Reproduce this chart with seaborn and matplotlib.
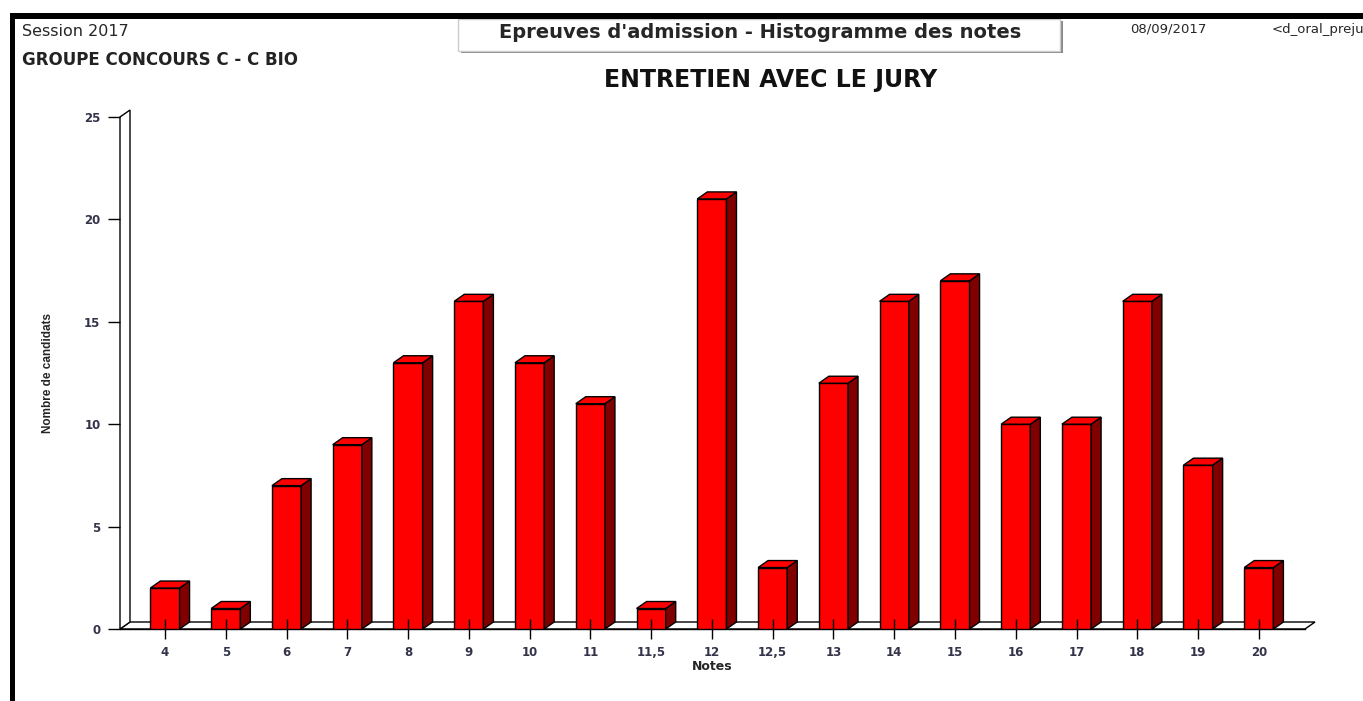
import matplotlib
matplotlib.use("Agg")
import matplotlib.pyplot as plt
from matplotlib.patches import Polygon, Rectangle
import seaborn as sns
import pandas as pd

notes = ["4", "5", "6", "7", "8", "9", "10", "11", "11,5", "12",
         "12,5", "13", "14", "15", "16", "17", "18", "19", "20"]
candidats = [2, 1, 7, 9, 13, 16, 13, 11, 1, 21,
             3, 12, 16, 17, 10, 10, 16, 8, 3]
yticks = [0, 5, 10, 15, 20, 25]

df = pd.DataFrame({"Notes": notes, "n": candidats})

sns.set_style("white")
plt.rcParams["font.family"] = ["DejaVu Sans"]

fig = plt.figure(figsize=(13.63, 7.01), dpi=100)
ax = fig.add_axes([120 / 1363, 72 / 701, 1185 / 1363, 512 / 701])

sns.barplot(data=df, x="Notes", y="n", order=notes, color="#ff0000",
            saturation=1, width=0.48, edgecolor="black", linewidth=1,
            ax=ax, zorder=3)

x0, x1 = -0.74, 18.76
dx, dy = 10 / 60.78, 7 / 20.48
ax.set_xlim(x0, x1)
ax.set_ylim(0, 25)

# floor and wall
ax.add_patch(Polygon([(x0, 0), (x1, 0), (x1 + dx, dy), (x0 + dx, dy)],
                     closed=True, fc="white", ec="black", lw=1,
                     zorder=0.5, clip_on=False))
ax.add_patch(Polygon([(x0, 0), (x0, 25), (x0 + dx, 25 + dy), (x0 + dx, dy)],
                     closed=True, fc="white", ec="black", lw=1,
                     zorder=0.5, clip_on=False))

# 3d sides and tops of bars
for p in ax.patches[:len(notes)]:
    x, w, h = p.get_x(), p.get_width(), p.get_height()
    ax.add_patch(Polygon([(x + w, 0), (x + w, h), (x + w + dx, h + dy), (x + w + dx, dy)],
                         closed=True, fc="#800000", ec="black", lw=1, zorder=3,
                         clip_on=False))
    ax.add_patch(Polygon([(x, h), (x + w, h), (x + w + dx, h + dy), (x + dx, h + dy)],
                         closed=True, fc="#ff0000", ec="black", lw=1, zorder=3,
                         clip_on=False))

for s in ["top", "right", "left"]:
    ax.spines[s].set_visible(False)
ax.spines["bottom"].set_color("black")
ax.spines["bottom"].set_linewidth(1)
ax.spines["bottom"].set_zorder(0.6)

lab_col = "#33334a"
ax.set_yticks(yticks)
ax.set_yticklabels([str(v) for v in yticks], fontsize=8.5, color=lab_col,
                   fontweight="bold")
ax.tick_params(axis="y", left=True, length=9, width=1, color="black", pad=5)
ax.tick_params(axis="x", bottom=True, direction="inout", length=14, width=1,
               color="black", pad=12.5, labelsize=8.5, labelcolor=lab_col)
for t in ax.get_xticklabels():
    t.set_verticalalignment("baseline")
    t.set_fontweight("bold")
ax.xaxis.set_zorder(5)

ax.set_xlabel("Notes", fontsize=9, fontweight="bold", labelpad=1)
ax.set_ylabel("Nombre de candidats", fontsize=8.5, fontweight="bold",
              family=["Liberation Sans Narrow", "Liberation Sans", "DejaVu Sans"],
              labelpad=22)

# headers
fig.text(22 / 1363, 1 - 32 / 701, "Session 2017", fontsize=11.5, va="center")
fig.text(22 / 1363, 1 - 60 / 701, "GROUPE CONCOURS C - C BIO", fontsize=12,
         fontweight="bold", va="center", color="#222222")
fig.text(771 / 1363, 1 - 80 / 701, "ENTRETIEN AVEC LE JURY", fontsize=17,
         fontweight="bold", ha="center", va="center", color="#111111")
fig.text(1130 / 1363, 1 - 29 / 701, "08/09/2017", fontsize=9.5, va="center")
fig.text(1272 / 1363, 1 - 30 / 701, "<d_oral_preju", fontsize=9.5, va="center")

# title box with shadow
fig.patches.append(Rectangle((461 / 1363, 1 - 53 / 701), 602 / 1363, 32 / 701,
                             transform=fig.transFigure, fc="#888888", ec="none"))
fig.patches.append(Rectangle((458 / 1363, 1 - 51 / 701), 602 / 1363, 32 / 701,
                             transform=fig.transFigure, fc="white", ec="#cccccc", lw=1))
fig.text(760 / 1363, 1 - 33 / 701, "Epreuves d'admission - Histogramme des notes",
         fontsize=14, fontweight="bold", ha="center", va="center")

# black frame
fig.patches.append(Rectangle((10 / 1363, 1 - 19 / 701), 1353 / 1363, 6 / 701,
                             transform=fig.transFigure, fc="black", ec="none"))
fig.patches.append(Rectangle((10 / 1363, 0), 5 / 1363, 1 - 14 / 701,
                             transform=fig.transFigure, fc="black", ec="none"))

fig.savefig("out.png", dpi=100, facecolor="white")
